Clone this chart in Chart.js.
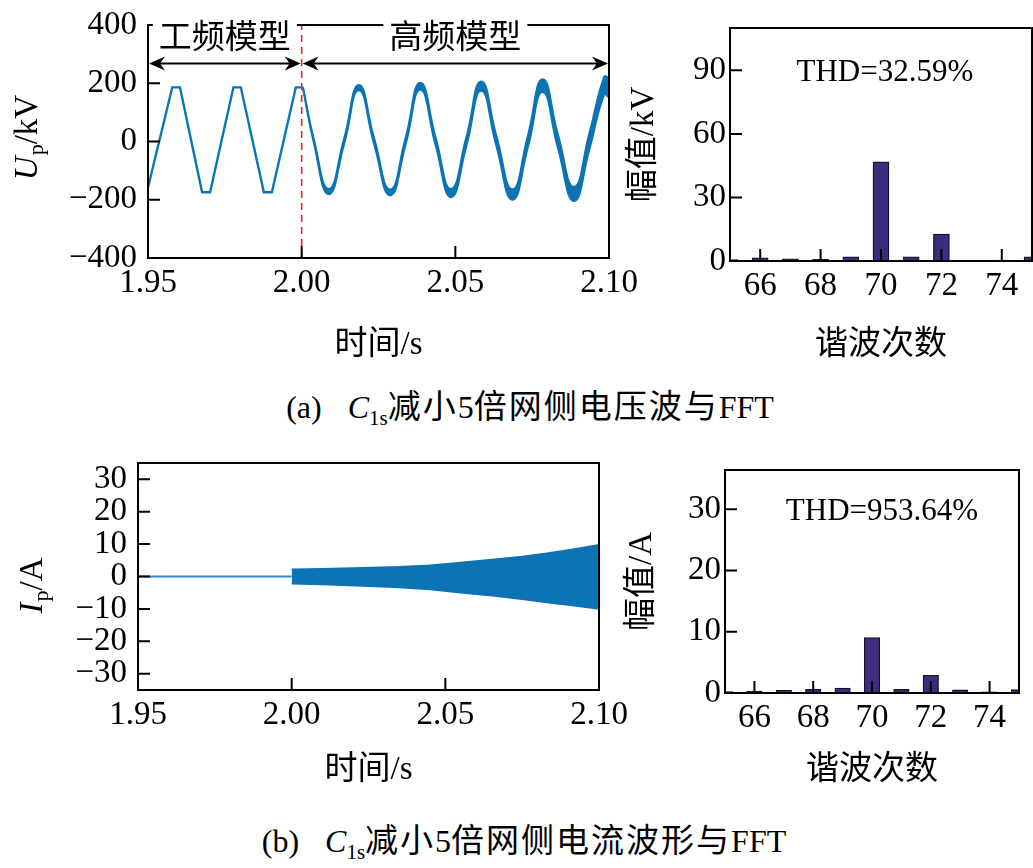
<!DOCTYPE html>
<html>
<head>
<meta charset="utf-8">
<script src="https://cdn.jsdelivr.net/npm/chart.js@4.4.1/dist/chart.umd.min.js"></script>
<style>
body { margin:0; background:#fff; width:1033px; height:868px; position:relative; overflow:hidden; }
canvas { position:absolute; }
.cap { position:absolute; width:800px; text-align:center; font-family:'Liberation Serif','Noto Sans CJK SC',serif; font-size:32px; color:#000; white-space:nowrap; line-height:34px; }
.cap .lab { margin-right:26px; }
.cap .zh { font-family:'Noto Sans CJK SC'; font-size:33px; letter-spacing:2px; }
.cap sub { font-size:21px; vertical-align:-7px; line-height:0; }
</style>
</head>
<body>
<canvas id="voltWave" width="640" height="380" style="left:0;top:0"></canvas>
<canvas id="voltFft" width="423" height="380" style="left:610px;top:0"></canvas>
<canvas id="currWave" width="640" height="360" style="left:0;top:440px"></canvas>
<canvas id="currFft" width="423" height="360" style="left:610px;top:440px"></canvas>
<div class="cap" style="left:130px;top:387px"><span class="lab">(a)</span><i>C</i><sub>1s</sub><span class="zh">减小</span>5<span class="zh">倍网侧电压波与</span>FFT</div>
<div class="cap" style="left:124px;top:821px"><span class="lab">(b)</span><i>C</i><sub>1s</sub><span class="zh">减小</span>5<span class="zh">倍网侧电流波形与</span>FFT</div>
<script>
// axis ticks
var timeTicks = [1.95, 2.00, 2.05, 2.10];
var voltTicks = [-400, -200, 0, 200, 400];
var currTicks = [-30, -20, -10, 0, 10, 20, 30];
var harmTicks = [66, 68, 70, 72, 74];
var voltFftTicks = [0, 30, 60, 90];
var currFftTicks = [0, 10, 20, 30];

// 工频模型 part of the voltage (s, kV)
var lfTime = [1.9500, 1.9579, 1.9604, 1.9676, 1.9702, 1.9778, 1.9802, 1.9877, 1.9903, 1.9981, 2.0004];
var lfVolt = [-158, 186, 186, -174, -174, 186, 186, -174, -174, 186, 186];

// 高频模型 part: upper and lower edge of the ripple band (kV)
var hfTime  = [2.0004, 2.0040, 2.0088, 2.0138, 2.0186, 2.0236, 2.0288, 2.0338, 2.0386, 2.0436, 2.0486,
               2.0536, 2.0584, 2.0634, 2.0686, 2.0736, 2.0784, 2.0834, 2.0886, 2.0936, 2.0984, 2.1000];
var hfUpper = [186, 6, -163, 9, 194, 10, -165, 11, 202, 13, -163, 15, 206, 17, -164, 20, 214, 23, -156, 27, 222, 219];
var hfLower = [186, -6, -181, -9, 176, -10, -185, -11, 178, -13, -191, -15, 174, -17, -200, -20, 170, -23, -204, -27, 162, 151];

// grid side current (A)
var iFlatTime = [1.95, 2.00];
var iFlat = [0, 0];
var iTime  = [2.000, 2.010, 2.023, 2.035, 2.045, 2.055, 2.066, 2.075, 2.083, 2.092, 2.100];
var iUpper = [2.2, 2.4, 2.7, 3.0, 3.5, 4.3, 5.3, 6.2, 7.2, 8.5, 9.8];
var iLower = [-2.2, -2.5, -2.9, -3.4, -4.0, -5.0, -6.0, -7.0, -8.0, -9.0, -10.0];

// FFT
var harmOrder = [65, 66, 67, 68, 69, 70, 71, 72, 73, 74, 75];
var voltHarm = [0.7, 1.5, 1.0, 0.8, 2.0, 46.8, 2.0, 12.7, 0, 0.4, 2.0];
var currHarm = [0.25, 0.3, 0.45, 0.6, 0.8, 9.05, 0.6, 2.9, 0.5, 0.2, 0.55];

var blue = '#0b74b4';
var barFill = '#3d2c7d';
var tickFont = { family: 'Liberation Serif', size: 33 };
var titleFont = { family: "'Liberation Serif', 'Noto Sans CJK SC'", size: 33 };

Chart.defaults.color = '#000';
Chart.defaults.animation = false;

function pts(xs, ys) {
    return xs.map(function(x, i) { return { x: x, y: ys[i] }; });
}
function fixTicks(list) {
    return function(s) { s.ticks = list.map(function(v) { return { value: v }; }); };
}
function fitW(w) {
    return function(s) { s.width = w; s.paddingTop = 0; s.paddingBottom = 0; };
}
function fitH(h) {
    return function(s) { s.height = h; s.paddingLeft = 0; s.paddingRight = 0; };
}
function minus(v) { return String(v).replace('-', '\u2212'); }

// box round the plot and ticks pointing inwards
var framePlugin = {
    id: 'frame',
    afterDatasetsDraw: function(chart) {
        var ctx = chart.ctx, a = chart.chartArea, sx = chart.scales.x, sy = chart.scales.y;
        ctx.save();
        ctx.strokeStyle = '#000';
        ctx.lineWidth = 2;
        ctx.beginPath();
        sx.ticks.forEach(function(t) {
            var px = sx.getPixelForValue(t.value);
            ctx.moveTo(px, a.bottom); ctx.lineTo(px, a.bottom - 12);
        });
        sy.ticks.forEach(function(t) {
            var py = sy.getPixelForValue(t.value);
            ctx.moveTo(a.left, py); ctx.lineTo(a.left + 12, py);
        });
        ctx.stroke();
        ctx.strokeRect(a.left, a.top, a.width, a.height);
        ctx.restore();
    }
};

function axisLabel(main, sub, rest, cx, cy) {
    return {
        id: 'axisLabel',
        afterDraw: function(chart) {
            var ctx = chart.ctx;
            ctx.save();
            ctx.translate(cx, cy);
            ctx.rotate(-Math.PI / 2);
            ctx.fillStyle = '#000';
            var f1 = 'italic 33px "Liberation Serif"', f2 = '22px "Liberation Serif"', f3 = '33px "Liberation Serif"';
            ctx.font = f1; var w1 = ctx.measureText(main).width;
            ctx.font = f2; var w2 = ctx.measureText(sub).width;
            ctx.font = f3; var w3 = ctx.measureText(rest).width;
            var x = -(w1 + w2 + w3) / 2, base = 12;
            ctx.font = f1; ctx.fillText(main, x, base);
            ctx.font = f2; ctx.fillText(sub, x + w1 + 1, base + 6);
            ctx.font = f3; ctx.fillText(rest, x + w1 + w2 + 1, base);
            ctx.restore();
        }
    };
}

function thdPlugin(text, xv, yv) {
    return {
        id: 'thd',
        afterDatasetsDraw: function(chart) {
            var ctx = chart.ctx;
            ctx.save();
            ctx.font = '31px "Liberation Serif"';
            ctx.fillStyle = '#000';
            ctx.textAlign = 'center';
            ctx.textBaseline = 'middle';
            ctx.fillText(text, chart.scales.x.getPixelForValue(xv), chart.scales.y.getPixelForValue(yv));
            ctx.restore();
        }
    };
}

function arrowHead(ctx, x, y, dir) {
    ctx.beginPath();
    ctx.moveTo(x, y);
    ctx.lineTo(x - dir * 16, y - 7);
    ctx.lineTo(x - dir * 11, y);
    ctx.lineTo(x - dir * 16, y + 7);
    ctx.closePath();
    ctx.fill();
}

var regimeNames = ['工频模型', '高频模型'];
var regimePlugin = {
    id: 'regime',
    afterDraw: function(chart) {
        var ctx = chart.ctx, sx = chart.scales.x, sy = chart.scales.y;
        var spans = [[1.95, 2.00], [2.00, 2.10]];
        var yA = sy.getPixelForValue(268);
        ctx.save();
        ctx.strokeStyle = '#000';
        ctx.fillStyle = '#000';
        ctx.lineWidth = 2;
        spans.forEach(function(sp) {
            var x0 = sx.getPixelForValue(sp[0]) + 1, x1 = sx.getPixelForValue(sp[1]) - 1;
            ctx.beginPath(); ctx.moveTo(x0 + 8, yA); ctx.lineTo(x1 - 8, yA); ctx.stroke();
            arrowHead(ctx, x0, yA, -1);
            arrowHead(ctx, x1, yA, 1);
        });
        var yT = sy.getPixelForValue(365);
        ctx.font = '33px "Noto Sans CJK SC"';
        ctx.textAlign = 'center';
        ctx.textBaseline = 'middle';
        regimeNames.forEach(function(name, i) {
            var xc = sx.getPixelForValue(i === 0 ? 1.975 : 2.05);
            var w = ctx.measureText(name).width;
            ctx.fillStyle = '#fff';
            ctx.fillRect(xc - w / 2 - 6, yT - 20, w + 12, 38);
            ctx.fillStyle = '#000';
            ctx.fillText(name, xc, yT);
        });
        ctx.restore();
    }
};

function waveScales(yTicks, yMin, yMax, yW, xH, titlePad) {
    return {
        x: {
            type: 'linear', min: 1.95, max: 2.10,
            afterBuildTicks: fixTicks(timeTicks), afterFit: fitH(xH),
            grid: { display: false, drawTicks: false }, border: { display: false },
            ticks: { font: tickFont, padding: 6, autoSkip: false, maxRotation: 0,
                     callback: function(v) { return v.toFixed(2); } },
            title: { display: true, text: '时间/s', font: titleFont, padding: { top: 0, bottom: titlePad } }
        },
        y: {
            min: yMin, max: yMax,
            afterBuildTicks: fixTicks(yTicks), afterFit: fitW(yW),
            grid: { display: false, drawTicks: false }, border: { display: false },
            ticks: { font: tickFont, padding: 11, autoSkip: false, callback: minus }
        }
    };
}

function fftScales(yTicks, yMax, yW, xH, xPad, yPad, yTitle) {
    return {
        x: {
            type: 'linear', min: 65, max: 75, offset: false,
            afterBuildTicks: fixTicks(harmTicks), afterFit: fitH(xH),
            grid: { display: false, drawTicks: false, offset: false }, border: { display: false },
            ticks: { font: tickFont, padding: 6, autoSkip: false, maxRotation: 0 },
            title: { display: true, text: '谐波次数', font: titleFont, padding: { top: 0, bottom: xPad } }
        },
        y: {
            min: 0, max: yMax,
            afterBuildTicks: fixTicks(yTicks), afterFit: fitW(yW),
            grid: { display: false, drawTicks: false }, border: { display: false },
            ticks: { font: tickFont, padding: 4, autoSkip: false },
            title: { display: true, text: yTitle, font: titleFont, padding: { top: yPad, bottom: 0 } }
        }
    };
}

var noLegend = { legend: { display: false }, tooltip: { enabled: false } };

new Chart(document.getElementById('voltWave'), {
    type: 'line',
    data: {
        datasets: [{
            data: pts(lfTime, lfVolt), borderColor: blue, borderWidth: 2.4, pointRadius: 0, tension: 0
        }, {
            data: pts(hfTime, hfUpper), borderColor: blue, borderWidth: 2, pointRadius: 0, tension: 0.5
        }, {
            data: pts(hfTime, hfLower), borderColor: blue, borderWidth: 2, pointRadius: 0, tension: 0.5,
            fill: '-1', backgroundColor: blue
        }, {
            data: pts([2.00, 2.00], [-400, 400]), borderColor: '#e0282c', borderWidth: 1.6,
            borderDash: [7, 5], pointRadius: 0, order: -1
        }]
    },
    options: {
        responsive: false,
        layout: { padding: { top: 25, right: 31, left: 0, bottom: 0 } },
        scales: waveScales(voltTicks, -400, 400, 148, 122, 15),
        plugins: noLegend
    },
    plugins: [framePlugin, regimePlugin, axisLabel('U', 'p', '/kV', 25, 138)]
});

new Chart(document.getElementById('voltFft'), {
    type: 'bar',
    data: {
        datasets: [{
            data: pts(harmOrder, voltHarm), backgroundColor: barFill, borderColor: '#15102a',
            borderWidth: 1.3, barThickness: 16
        }]
    },
    options: {
        responsive: false,
        layout: { padding: { top: 28, right: 1, left: 0, bottom: 0 } },
        scales: fftScales(voltFftTicks, 110, 120, 119, 15, 15, '幅值/kV'),
        plugins: noLegend
    },
    plugins: [framePlugin, thdPlugin('THD=32.59%', 70.13, 89)]
});

new Chart(document.getElementById('currWave'), {
    type: 'line',
    data: {
        datasets: [{
            data: pts(iFlatTime, iFlat), borderColor: '#2b8ccc', borderWidth: 2, pointRadius: 0
        }, {
            data: pts(iTime, iUpper), borderColor: blue, borderWidth: 1.5, pointRadius: 0, tension: 0
        }, {
            data: pts(iTime, iLower), borderColor: blue, borderWidth: 1.5, pointRadius: 0, tension: 0,
            fill: '-1', backgroundColor: blue
        }]
    },
    options: {
        responsive: false,
        layout: { padding: { top: 23, right: 41, left: 0, bottom: 0 } },
        scales: waveScales(currTicks, -35, 35, 138, 110, 10),
        plugins: noLegend
    },
    plugins: [framePlugin, axisLabel('I', 'p', '/A', 30, 146)]
});

new Chart(document.getElementById('currFft'), {
    type: 'bar',
    data: {
        datasets: [{
            data: pts(harmOrder, currHarm), backgroundColor: barFill, borderColor: '#15102a',
            borderWidth: 1.3, barThickness: 15.5
        }]
    },
    options: {
        responsive: false,
        layout: { padding: { top: 30, right: 14, left: 0, bottom: 0 } },
        scales: fftScales(currFftTicks, 36.4, 115, 107, 10, 13, '幅值/A'),
        plugins: noLegend
    },
    plugins: [framePlugin, thdPlugin('THD=953.64%', 70.34, 29.5)]
});
</script>
</body>
</html>
